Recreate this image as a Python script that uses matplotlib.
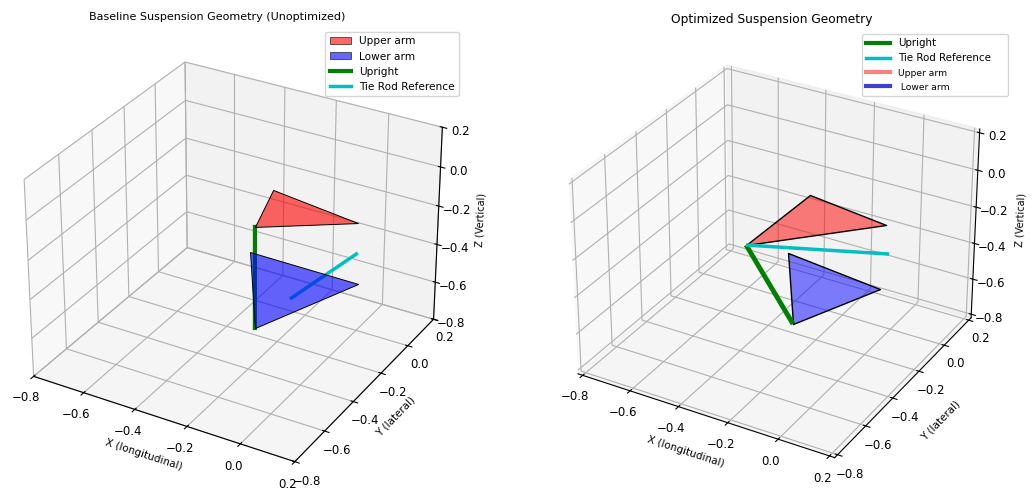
import numpy as np
import matplotlib
matplotlib.use('Agg')
import matplotlib.pyplot as plt
from matplotlib.lines import Line2D
from matplotlib.patches import Patch
from mpl_toolkits.mplot3d.art3d import Poly3DCollection

W, H = 1035, 490

# hardpoints (x, y, z)
base_upper = [(-0.334, -0.121, -0.3), (-0.409, 0.139, -0.3), (-0.043, 0.078, -0.3)]
base_lower = [(-0.521, 0.174, -0.7), (-0.25, -0.267, -0.7), (-0.082, 0.169, -0.7)]
base_upright = [(-0.334, -0.121, -0.3), (-0.25, -0.267, -0.7)]
base_tie = [(-0.12, -0.258, -0.5), (-0.066, 0.129, -0.5)]

opt_upper = [(-0.423, -0.315, -0.3), (-0.408, 0.121, -0.3), (-0.06, 0.062, -0.3)]
opt_lower = [(-0.523, 0.161, -0.7), (-0.254, -0.273, -0.7), (-0.098, 0.1, -0.7)]
opt_upright = [(-0.423, -0.315, -0.3), (-0.254, -0.273, -0.7)]
opt_tie = [(-0.49, -0.203, -0.4), (-0.012, -0.002, -0.4)]

ticks = [-0.8, -0.6, -0.4, -0.2, 0.0, 0.2]

fig = plt.figure(figsize=(W/100, H/100), dpi=100)


def make_ax(cx, cy, s, lims, xpad, ypad, zpad):
    ax = fig.add_axes([(cx-s/2)/W, 1-(cy+s/2)/H, s/W, s/H], projection='3d', computed_zorder=False)
    ax.view_init(elev=30, azim=-60)
    ax.set_xlim(*lims)
    ax.set_ylim(*lims)
    ax.set_zlim(*lims)
    ax.set_xticks(ticks)
    ax.set_yticks(ticks)
    ax.set_zticks(ticks)
    ax.tick_params(labelsize=8.5, pad=0)
    ax.set_xlabel('X (longitudinal)', fontsize=7.5, labelpad=xpad)
    ax.set_ylabel('Y (lateral)', fontsize=7.5, labelpad=ypad)
    ax.set_zlabel('Z (Vertical)', fontsize=7, labelpad=zpad)
    return ax


def line3d(ax, pts, **kw):
    p = np.array(pts)
    ax.plot(p[:, 0], p[:, 1], p[:, 2], **kw)


# baseline
ax1 = make_ax(231, 258.5, 465, (-0.8, 0.2), -2, -2, -2)
line3d(ax1, base_upright, color='g', lw=3, zorder=1)
line3d(ax1, base_tie, color='c', lw=2.5, zorder=1, solid_capstyle='butt')
ax1.add_collection3d(Poly3DCollection([base_upper], facecolor='r', edgecolor='k', alpha=0.6, linewidths=0.7, zorder=2))
ax1.add_collection3d(Poly3DCollection([base_lower], facecolor='b', edgecolor='k', alpha=0.6, linewidths=0.7, zorder=2))

# optimized
ax2 = make_ax(772, 258, 457, (-0.82, 0.22), -2, 2, -1)
ax2.add_collection3d(Poly3DCollection([opt_upper], facecolor=(1, 0, 0, 0.5), edgecolor='k', linewidths=1, zorder=1))
ax2.add_collection3d(Poly3DCollection([opt_lower], facecolor=(0, 0, 1, 0.5), edgecolor='k', linewidths=1, zorder=1))
line3d(ax2, opt_upright, color='g', lw=3.5, zorder=2, solid_capstyle='butt')
line3d(ax2, opt_tie, color='c', lw=2.5, zorder=2, solid_capstyle='butt')

fig.text(217/W, 1-17/H, 'Baseline Suspension Geometry (Unoptimized)', ha='center', va='center', fontsize=8)
fig.text(772/W, 1-19/H, 'Optimized Suspension Geometry', ha='center', va='center', fontsize=8.8)

handles1 = [Patch(facecolor='r', edgecolor='k', alpha=0.6, linewidth=0.7),
            Patch(facecolor='b', edgecolor='k', alpha=0.6, linewidth=0.7),
            Line2D([], [], color='g', lw=3),
            Line2D([], [], color='c', lw=2.5)]
labels1 = ['Upper arm', 'Lower arm', 'Upright', 'Tie Rod Reference']
fig.legend(handles1, labels1, loc='upper right', bbox_to_anchor=(459/W, 1-32/H), borderaxespad=0,
           fontsize=7.6)

handles2 = [Line2D([], [], color='g', lw=3),
            Line2D([], [], color='c', lw=2.5),
            Line2D([], [], color='#ff8080', lw=3),
            Line2D([], [], color='#4040d0', lw=3)]
labels2 = ['Upright', 'Tie Rod Reference    ', 'Upper arm', ' Lower arm']
leg2 = fig.legend(handles2, labels2, loc='upper right', bbox_to_anchor=(1008/W, 1-34/H), borderaxespad=0,
                  fontsize=7.4, handlelength=2.3)
leg2.get_texts()[2].set_fontsize(6.6)
leg2.get_texts()[3].set_fontsize(6.6)

fig.savefig('out.png', dpi=100)
